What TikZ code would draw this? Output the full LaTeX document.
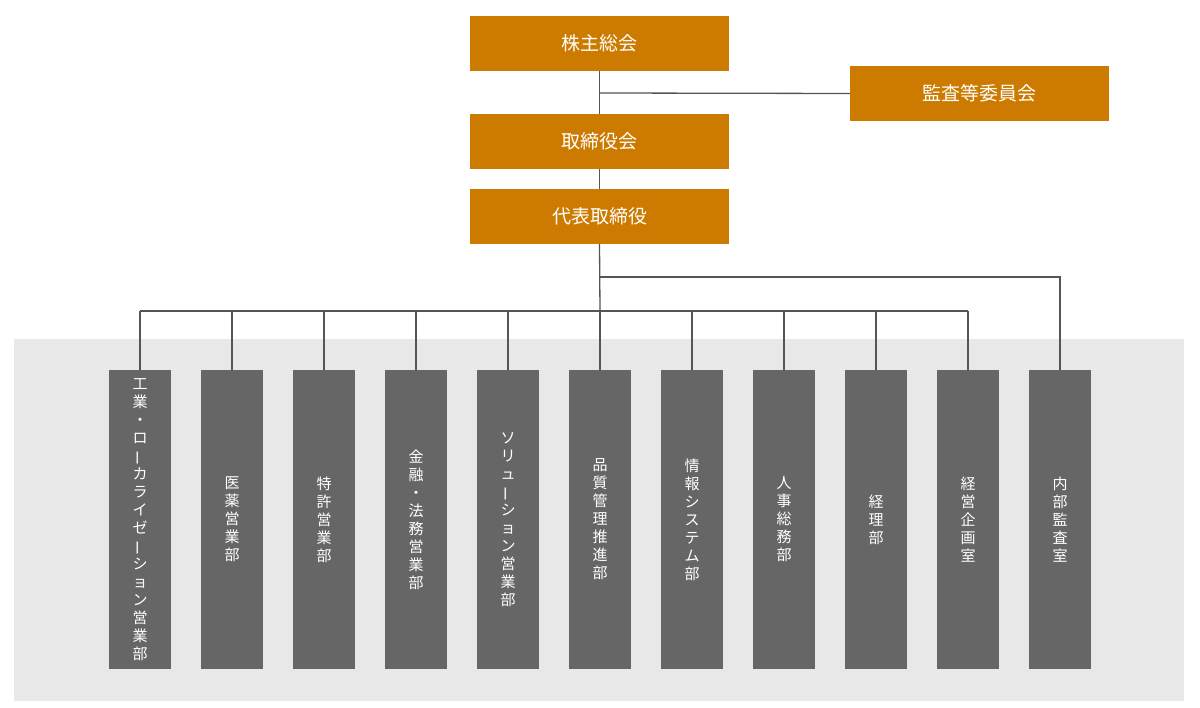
\documentclass[tikz,border=0pt]{standalone}
\usepackage{fontspec}
\usepackage{graphicx}
\newfontfamily\cjk{Noto Sans CJK JP}
\definecolor{org}{HTML}{CC7A00}
\definecolor{dgr}{HTML}{666666}
\definecolor{bg}{HTML}{E8E8E8}
\definecolor{ln}{HTML}{555555}
\newcommand{\vb}{\rotatebox[origin=c]{90}{ー}}
\begin{document}
\begin{tikzpicture}[x=1pt,y=-1pt,
  topbox/.style={fill=org,text=white,minimum width=259pt,minimum height=55pt,inner sep=0pt,font=\cjk\fontsize{19}{22}\selectfont},
  dept/.style={fill=dgr,text=white,minimum width=62pt,minimum height=299pt,inner sep=0pt,align=center,font=\cjk\fontsize{15}{18}\selectfont},
  conn/.style={draw=ln,line width=1.3pt}]
\useasboundingbox (0,0) rectangle (1200,708);
\fill[bg] (14,339) rectangle (1184,701);
\node[topbox] (s) at (599.5,43.5) {株主総会};
\node[topbox] (k) at (979.5,93.5) {監査等委員会};
\node[topbox] (t) at (599.5,141.5) {取締役会};
\node[topbox] (d) at (599.5,216.5) {代表取締役};
\coordinate (j1) at (600,93);
\coordinate (j2) at (600,311);
\coordinate (j3) at (600,277);
\draw[conn] (s.south) -- (t.north);
\draw[conn] (j1) -- (k.west);
\draw[conn] (t.south) -- (d.north);
\draw[conn] (d.south) -- (j2);
\foreach \i/\x/\t in {
 1/140/{工\\業\\・\\ロ\\\vb\\カ\\ラ\\イ\\ゼ\\\vb\\シ\\ョ\\ン\\営\\業\\部},
 2/232/{医\\薬\\営\\業\\部},
 3/324/{特\\許\\営\\業\\部},
 4/416/{金\\融\\・\\法\\務\\営\\業\\部},
 5/508/{ソ\\リ\\ュ\\\vb\\シ\\ョ\\ン\\営\\業\\部},
 6/600/{品\\質\\管\\理\\推\\進\\部},
 7/692/{情\\報\\シ\\ス\\テ\\ム\\部},
 8/784/{人\\事\\総\\務\\部},
 9/876/{経\\理\\部},
 10/968/{経\\営\\企\\画\\室},
 11/1060/{内\\部\\監\\査\\室}}{
  \node[dept] (b\i) at (\x,519.5) {\t};
}
\foreach \i in {1,...,10}{ \draw[conn] (b\i.north) -- (b\i.north |- j2); }
\draw[conn] (b1.north |- j2) -- (b10.north |- j2);
\draw[conn] (j3) -| (b11.north);
\end{tikzpicture}
\end{document}
